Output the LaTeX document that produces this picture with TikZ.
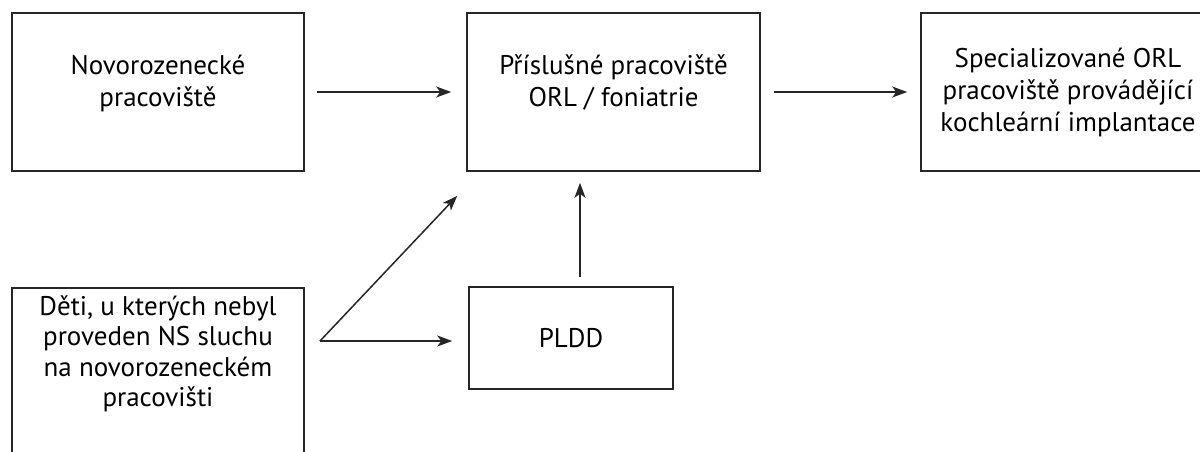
\documentclass[tikz,border=0pt]{standalone}
\usepackage{fontspec}
\setmainfont{PT Sans}
\usetikzlibrary{arrows.meta,calc}
\begin{document}
\begin{tikzpicture}[x=0.5pt,y=-0.5pt,
  box/.style={draw=black!85,line width=0.8pt,rectangle,inner sep=0pt,align=center,
    font=\fontsize{13.5pt}{16pt}\selectfont},
  lbl/.style={inner sep=0pt,align=center,font=\fontsize{13.5pt}{15.2pt}\selectfont},
  arr/.style={draw=black!85,line width=0.75pt,-{Stealth[length=7.5pt,width=5.5pt,inset=2pt]}}]
\useasboundingbox (0,0) rectangle (1200,451);
\clip (0,0) rectangle (1200,451);
\fill[white] (0,0) rectangle (1200,451);
\node[box, minimum width=146pt, minimum height=79pt] (n) at (158,92) {Novorozenecké\\pracoviště\\[-5pt]};
\node[box, minimum width=146.5pt, minimum height=79pt] (o) at (613.5,92) {Příslušné pracoviště\\ORL / foniatrie\\[-5pt]};
\node[box, minimum width=147pt, minimum height=79pt] (s) at (1068,92) {Specializované ORL\\pracoviště provádějící\\kochleární implantace};
\node[box, minimum width=146pt, minimum height=100pt, anchor=north] (d) at (158,287) {};
\node[lbl] (dt) at (158,354) {Děti, u kterých nebyl\\proveden NS sluchu\\na novorozeneckém\\pracovišti};
\node[box, minimum width=102pt, minimum height=51pt] (p) at (571,338) {PLDD};
\coordinate (fork) at (320,341);
\coordinate (dtip) at ([xshift=-4.5pt,yshift=-12pt]o.south west);
\draw[arr, shorten <=6pt, shorten >=7.5pt] (n) -- (o);
\draw[arr, shorten <=6.5pt, shorten >=6.5pt] (o) -- (s);
\draw[arr, shorten <=4.5pt, shorten >=5.5pt] ([xshift=4.5pt]p.north) -- ([xshift=4.5pt]p.north |- o.south);
\draw[arr] (fork) -- (dtip);
\draw[arr, shorten >=8pt] (fork) -- (fork -| p.west);
\end{tikzpicture}
\end{document}
